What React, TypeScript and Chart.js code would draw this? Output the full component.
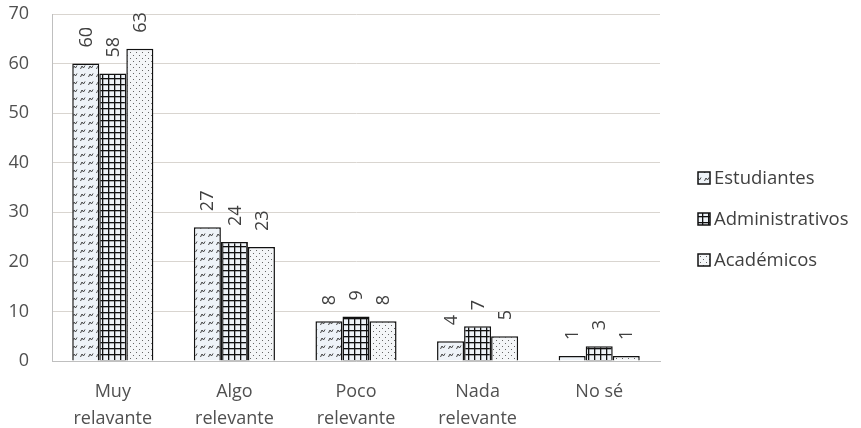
import React, { useEffect, useRef } from "react";
import { Chart, registerables } from "chart.js";

Chart.register(...registerables);

const categories: string[][] = [
  ["Muy", "relavante"],
  ["Algo", "relevante"],
  ["Poco", "relevante"],
  ["Nada", "relevante"],
  ["No sé"],
];
const seriesNames = ["Estudiantes", "Administrativos", "Académicos"];
const estudiantes = [60, 27, 8, 4, 1];
const administrativos = [58, 24, 9, 7, 3];
const academicos = [63, 23, 8, 5, 1];
const yTicks = [0, 10, 20, 30, 40, 50, 60, 70];

const FONT = "'Open Sans', sans-serif";

function makePattern(kind: number): CanvasPattern | string {
  const c = document.createElement("canvas");
  const ctx = c.getContext("2d");
  if (!ctx) return "#fff";
  if (kind === 0) {
    c.width = 8;
    c.height = 8;
    ctx.fillStyle = "#eef3f8";
    ctx.fillRect(0, 0, 8, 8);
    ctx.strokeStyle = "#444";
    ctx.lineWidth = 1;
    ctx.beginPath();
    ctx.moveTo(0.5, 5);
    ctx.lineTo(2, 2);
    ctx.lineTo(3.5, 4);
    ctx.lineTo(5, 1.5);
    ctx.stroke();
  } else if (kind === 1) {
    c.width = 6;
    c.height = 6;
    ctx.fillStyle = "#eef3f8";
    ctx.fillRect(0, 0, 6, 6);
    ctx.fillStyle = "#111";
    ctx.fillRect(0, 0, 6, 1.3);
    ctx.fillRect(0, 0, 1.3, 6);
  } else {
    c.width = 6;
    c.height = 6;
    ctx.fillStyle = "#f4f6f8";
    ctx.fillRect(0, 0, 6, 6);
    ctx.fillStyle = "#666";
    ctx.fillRect(1, 1, 1, 1);
    ctx.fillRect(4, 4, 1, 1);
  }
  return ctx.createPattern(c, "repeat") || "#fff";
}

const labelPlugin = {
  id: "rotLabels",
  afterDatasetsDraw(chart: any) {
    const ctx = chart.ctx;
    ctx.save();
    ctx.fillStyle = "#404040";
    ctx.font = `18px ${FONT}`;
    chart.data.datasets.forEach((ds: any, i: number) => {
      const meta = chart.getDatasetMeta(i);
      meta.data.forEach((bar: any, j: number) => {
        ctx.save();
        ctx.translate(bar.x, bar.y - 16);
        ctx.rotate(-Math.PI / 2);
        ctx.textAlign = "left";
        ctx.textBaseline = "middle";
        ctx.fillText(String(ds.data[j]), 0, 1);
        ctx.restore();
      });
    });
    ctx.restore();
  },
};

const legendPlugin = {
  id: "customLegend",
  afterDraw(chart: any) {
    const ctx = chart.ctx;
    const ys = [178, 219, 260];
    ctx.save();
    chart.data.datasets.forEach((ds: any, i: number) => {
      const y = ys[i];
      ctx.fillStyle = ds.backgroundColor;
      ctx.fillRect(698, y - 6, 12, 12);
      ctx.strokeStyle = "#111";
      ctx.lineWidth = 1.5;
      ctx.strokeRect(698, y - 6, 12, 12);
      ctx.fillStyle = "#404040";
      ctx.font = `18.5px ${FONT}`;
      ctx.textAlign = "left";
      ctx.textBaseline = "middle";
      ctx.fillText(ds.label, 714, y + 1);
    });
    ctx.restore();
  },
};

export default function App() {
  const ref = useRef<HTMLCanvasElement | null>(null);
  useEffect(() => {
    document.body.style.margin = "0";
    if (!ref.current) return;
    const values = [estudiantes, administrativos, academicos];
    const chart = new Chart(ref.current, {
      type: "bar",
      data: {
        labels: categories,
        datasets: values.map((v, i) => ({
          label: seriesNames[i],
          data: v,
          backgroundColor: makePattern(i) as any,
          borderColor: "#111",
          borderWidth: 1.5,
          categoryPercentage: 0.667,
          barPercentage: 1,
        })),
      },
      options: {
        animation: false,
        responsive: false,
        maintainAspectRatio: false,
        layout: { padding: { top: 14, right: 201, left: 0, bottom: 0 } },
        plugins: { legend: { display: false }, tooltip: { enabled: false } },
        scales: {
          x: {
            grid: { display: false },
            border: { display: true, color: "#bfbfbf", width: 1 },
            ticks: {
              color: "#505050",
              font: { family: FONT, size: 18, lineHeight: 1.5 },
              padding: 9,
              maxRotation: 0,
              autoSkip: false,
            },
            afterFit(scale: any) {
              scale.height = 67;
              scale.paddingLeft = 0;
              scale.paddingRight = 0;
            },
          },
          y: {
            min: 0,
            max: 70,
            afterBuildTicks(scale: any) {
              scale.ticks = yTicks.map((v) => ({ value: v }));
            },
            grid: { color: "#d9d5d0", lineWidth: 1, drawTicks: false },
            border: { display: true, color: "#bfbfbf", width: 1 },
            ticks: {
              color: "#505050",
              font: { family: FONT, size: 18 },
              padding: 23,
              align: "center",
            },
            afterFit(scale: any) {
              scale.width = 52;
              scale.paddingTop = 0;
              scale.paddingBottom = 0;
            },
          },
        },
      },
      plugins: [labelPlugin, legendPlugin],
    });
    return () => chart.destroy();
  }, []);
  return (
    <div style={{ width: 861, height: 428, background: "#fff" }}>
      <canvas ref={ref} width={861} height={428} />
    </div>
  );
}
